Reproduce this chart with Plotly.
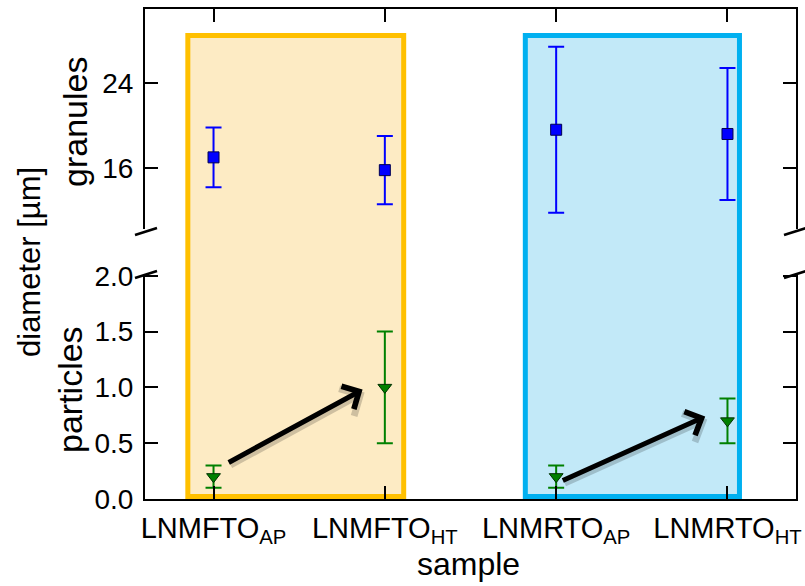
import plotly.graph_objects as go

# ---- data ----
samples = ["LNMFTO<sub>AP</sub>", "LNMFTO<sub>HT</sub>", "LNMRTO<sub>AP</sub>", "LNMRTO<sub>HT</sub>"]
sample_pos = [0, 1, 2, 3]
granule_d = [17.0, 15.8, 19.6, 19.2]
granule_err = [2.8, 3.2, 7.8, 6.2]
particle_d = [0.2, 1.0, 0.2, 0.7]
particle_err = [0.1, 0.5, 0.1, 0.2]
y_granule_ticks = [16, 24]
y_particle_ticks = [0.0, 0.5, 1.0, 1.5, 2.0]

# arrows (tail -> head) in data coordinates of the particle panel
arrow_tail = [(0.08, 0.32), (2.03, 0.16)]
arrow_head = [(0.87, 0.98), (2.87, 0.74)]

# highlighted sample groups (x extent)
group_x = [(-0.15, 1.11), (1.82, 3.07)]
group_line = ["#FFC000", "#00B0F0"]
group_fill = ["#FDEBC4", "#C2E9F8"]

FONT = "Liberation Sans, Arial, sans-serif"

fig = go.Figure()

fig.add_trace(go.Scatter(
    x=sample_pos, y=granule_d, mode="markers", xaxis="x2", yaxis="y2",
    marker=dict(symbol="square", size=11, color="#0000FF", line=dict(color="#000050", width=1)),
    error_y=dict(type="data", array=granule_err, color="#0000FF", thickness=2, width=8),
    showlegend=False,
))
fig.add_trace(go.Scatter(
    x=sample_pos, y=particle_d, mode="markers", xaxis="x", yaxis="y",
    marker=dict(symbol="triangle-down", size=12, color="#008000", line=dict(color="#003000", width=1)),
    error_y=dict(type="data", array=particle_err, color="#008000", thickness=2, width=8),
    showlegend=False,
))

shapes = []
for (x0, x1), lc, fc in zip(group_x, group_line, group_fill):
    shapes.append(dict(type="rect", xref="x", yref="paper", x0=x0, x1=x1, y0=0.005, y1=0.946,
                       line=dict(color=lc, width=5), fillcolor=fc, layer="below"))

# axis break marks
W, H, L, T = 651.0, 490.0, 145.0, 9.0
def px(x, y):
    return (x - L) / W, (T + H - y) / H
for (xa, ya, xb, yb) in [(135, 235, 157, 228), (135, 278, 157, 271), (784, 235, 806, 228), (784, 278, 806, 271)]:
    a = px(xa, ya); b = px(xb, yb)
    shapes.append(dict(type="line", xref="paper", yref="paper", x0=a[0], y0=a[1], x1=b[0], y1=b[1],
                       line=dict(color="black", width=2.5)))

annotations = []
for (tx, ty), (hx, hy) in zip(arrow_tail, arrow_head):
    # soft shadow
    annotations.append(dict(x=hx, y=hy, ax=tx, ay=ty, xref="x", yref="y", axref="x", ayref="y",
                            text="", showarrow=True, arrowhead=4, arrowsize=1, arrowwidth=6,
                            arrowcolor="rgba(0,0,0,0.18)", xshift=2, yshift=-3))
    annotations.append(dict(x=hx, y=hy, ax=tx, ay=ty, xref="x", yref="y", axref="x", ayref="y",
                            text="", showarrow=True, arrowhead=4, arrowsize=1, arrowwidth=5,
                            arrowcolor="black"))

titles = [
    ("granules", 75, 122, -90, 34),
    ("particles", 70, 390, -90, 34),
    ("diameter [µm]", 29, 262, -90, 31),
    ("sample", 468, 564, 0, 32),
]
for text, x, y, ang, size in titles:
    xp, yp = px(x, y)
    annotations.append(dict(text=text, x=xp, y=yp, xref="paper", yref="paper", showarrow=False,
                            textangle=ang, xanchor="center", yanchor="middle",
                            font=dict(family=FONT, size=size, color="black")))

axis_common = dict(showline=True, linecolor="black", linewidth=2, ticks="inside", ticklen=13,
                   tickwidth=2, tickcolor="black", showgrid=False, zeroline=False, automargin=False)

fig.update_layout(
    template="none",
    width=805, height=586,
    margin=dict(l=145, r=9, t=9, b=87),
    paper_bgcolor="white", plot_bgcolor="rgba(0,0,0,0)",
    xaxis=dict(domain=[0, 1], anchor="y", range=[-0.4, 3.4], tickvals=sample_pos, ticktext=samples,
               tickfont=dict(family=FONT, size=29, color="black"), ticklabelstandoff=2, **axis_common),
    xaxis2=dict(domain=[0, 1], anchor="y2", range=[-0.4, 3.4], tickvals=sample_pos, side="top",
                showticklabels=False, matches="x", **axis_common),
    yaxis=dict(domain=[0, 0.459], anchor="x", range=[0, 2.015], tickvals=y_particle_ticks,
               tickformat=".1f", mirror="ticks", ticklabelstandoff=4,
               tickfont=dict(family=FONT, size=28, color="black"), **axis_common),
    yaxis2=dict(domain=[0.551, 1], anchor="x2", range=[10.26, 30.96], tickvals=y_granule_ticks,
                mirror="ticks", ticklabelstandoff=4,
                tickfont=dict(family=FONT, size=28, color="black"), **axis_common),
    shapes=shapes,
    annotations=annotations,
)

fig.write_html("out.html")
